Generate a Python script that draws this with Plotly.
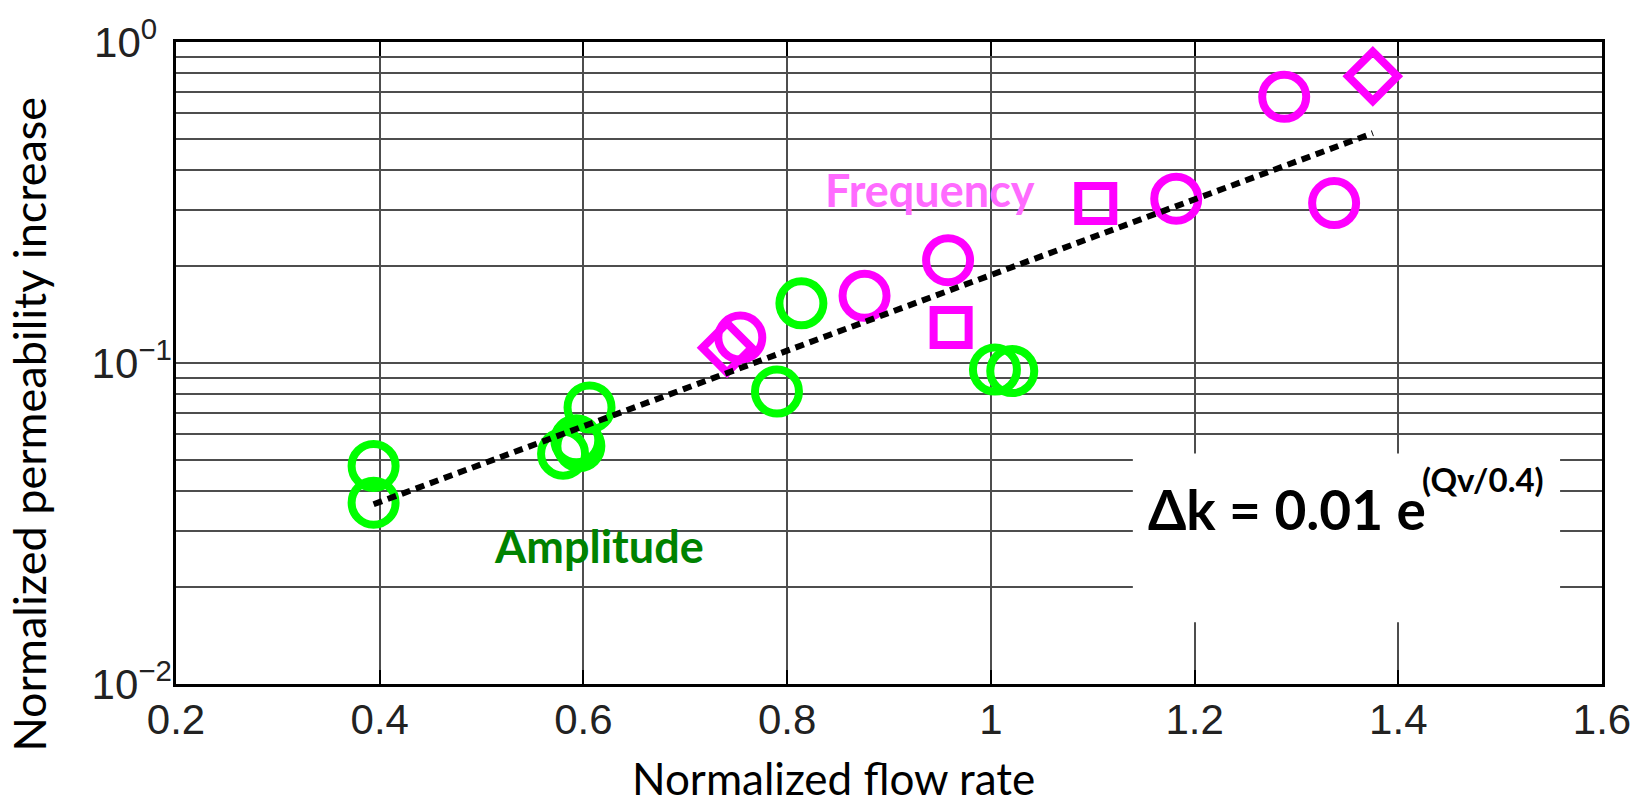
import plotly.graph_objects as go

# ---- data ----
amp_x = [0.394, 0.394, 0.580, 0.593, 0.596, 0.606, 0.790, 0.814, 1.004, 1.021]
amp_y = [0.0478, 0.0367, 0.0522, 0.0575, 0.0551, 0.0727, 0.0815, 0.1534, 0.0954, 0.0944]

freq_circle_x = [0.754, 0.876, 0.958, 1.182, 1.288, 1.337]
freq_circle_y = [0.120, 0.162, 0.209, 0.325, 0.675, 0.315]

freq_square_x = [0.961, 1.103]
freq_square_y = [0.129, 0.314]

freq_diamond_x = [0.741, 1.375]
freq_diamond_y = [0.1115, 0.782]

fit_x = [0.394, 1.375]
fit_y = [0.0363, 0.52]

x_ticks = [0.2, 0.4, 0.6, 0.8, 1.0, 1.2, 1.4, 1.6]
x_tick_text = ["0.2", "0.4", "0.6", "0.8", "1", "1.2", "1.4", "1.6"]

y_ticks = [0.01, 0.1, 1.0]
y_tick_text = ["10<sup>\u22122</sup>", "10<sup>\u22121</sup>", "10<sup>0\u2002</sup>"]
y_minor_ticks = [0.02, 0.03, 0.04, 0.05, 0.06, 0.07, 0.08, 0.09,
                 0.2, 0.3, 0.4, 0.5, 0.6, 0.7, 0.8, 0.9]

GREEN = "#00FF00"
MAGENTA = "#FF00FF"

fig = go.Figure()

fig.add_trace(go.Scatter(
    x=amp_x, y=amp_y, mode="markers", name="Amplitude",
    marker=dict(symbol="circle-open", size=44, color=GREEN, line=dict(width=8, color=GREEN))))
fig.add_trace(go.Scatter(
    x=freq_circle_x, y=freq_circle_y, mode="markers", name="Frequency",
    marker=dict(symbol="circle-open", size=44, color=MAGENTA, line=dict(width=8, color=MAGENTA))))
fig.add_trace(go.Scatter(
    x=freq_square_x, y=freq_square_y, mode="markers", name="Frequency sq",
    marker=dict(symbol="square-open", size=35, color=MAGENTA, line=dict(width=8, color=MAGENTA))))
fig.add_trace(go.Scatter(
    x=freq_diamond_x, y=freq_diamond_y, mode="markers", name="Frequency dia",
    marker=dict(symbol="diamond-open", size=38, color=MAGENTA, line=dict(width=8, color=MAGENTA))))
fig.add_trace(go.Scatter(
    x=fit_x, y=fit_y, mode="lines", name="fit",
    line=dict(color="black", width=6, dash="9px,6px")))

tick_font = dict(family="Liberation Sans, Arial, sans-serif", size=42, color="#222222")
grid_col = "#4d4d4d"

fig.update_xaxes(
    range=[0.2, 1.6], tickvals=x_ticks, ticktext=x_tick_text,
    showgrid=True, gridcolor=grid_col, gridwidth=1.5,
    showline=True, linecolor="black", linewidth=2.5, mirror="ticks",
    ticks="inside", ticklen=14, tickwidth=1.5, tickcolor="black",
    tickfont=tick_font, ticklabelstandoff=-3, zeroline=False)
fig.update_yaxes(
    type="log", range=[-2, 0], tickvals=y_ticks, ticktext=y_tick_text,
    showgrid=True, gridcolor=grid_col, gridwidth=1.5,
    minor=dict(tickvals=y_minor_ticks, showgrid=True, gridcolor=grid_col, gridwidth=1.5, ticks=""),
    showline=True, linecolor="black", linewidth=2.5, mirror="ticks",
    ticks="", tickfont=tick_font, ticklabelstandoff=-7, zeroline=False)

# white box behind the equation
fig.add_shape(type="rect", xref="paper", yref="paper",
              x0=0.671, x1=0.9706, y0=0.096, y1=0.359,
              fillcolor="white", line=dict(width=0), layer="above")

ann_font = "Lato, Open Sans, sans-serif"
fig.add_annotation(xref="paper", yref="paper", x=0.5288, y=0.7693,
                   text="<b>Frequency</b>", showarrow=False,
                   font=dict(family=ann_font, size=45, color="#FF6BFF"),
                   xanchor="center", yanchor="middle")
fig.add_annotation(xref="paper", yref="paper", x=0.2966, y=0.2152,
                   text="<b>Amplitude</b>", showarrow=False,
                   font=dict(family=ann_font, size=45, color="#008200"),
                   xanchor="center", yanchor="middle")
fig.add_annotation(xref="paper", yref="paper", x=0.6802, y=0.2724,
                   text="<b>\u0394k = 0.01 e</b>", showarrow=False,
                   font=dict(family=ann_font, size=55, color="black"),
                   xanchor="left", yanchor="middle")
fig.add_annotation(xref="paper", yref="paper", x=0.8724, y=0.3191,
                   text="<b>(Qv/0.4)</b>", showarrow=False,
                   font=dict(family=ann_font, size=33, color="black"),
                   xanchor="left", yanchor="middle")

# axis titles
fig.add_annotation(xref="paper", yref="paper", x=-0.1031, y=0.4056,
                   text="Normalized permeability increase", showarrow=False,
                   textangle=-90, font=dict(family=ann_font, size=45, color="black"),
                   xanchor="center", yanchor="middle")
fig.add_annotation(xref="paper", yref="paper", x=0.4614, y=-0.147,
                   text="Normalized flow rate", showarrow=False,
                   font=dict(family=ann_font, size=44, color="black"),
                   xanchor="center", yanchor="middle")

fig.update_layout(
    width=1646, height=805,
    margin=dict(l=176, r=44, t=38, b=121, pad=0),
    paper_bgcolor="white", plot_bgcolor="white",
    showlegend=False)

fig.write_html("out.html", config={"displayModeBar": False},
               post_script="document.body.style.margin='0px';document.body.style.overflow='hidden';")
